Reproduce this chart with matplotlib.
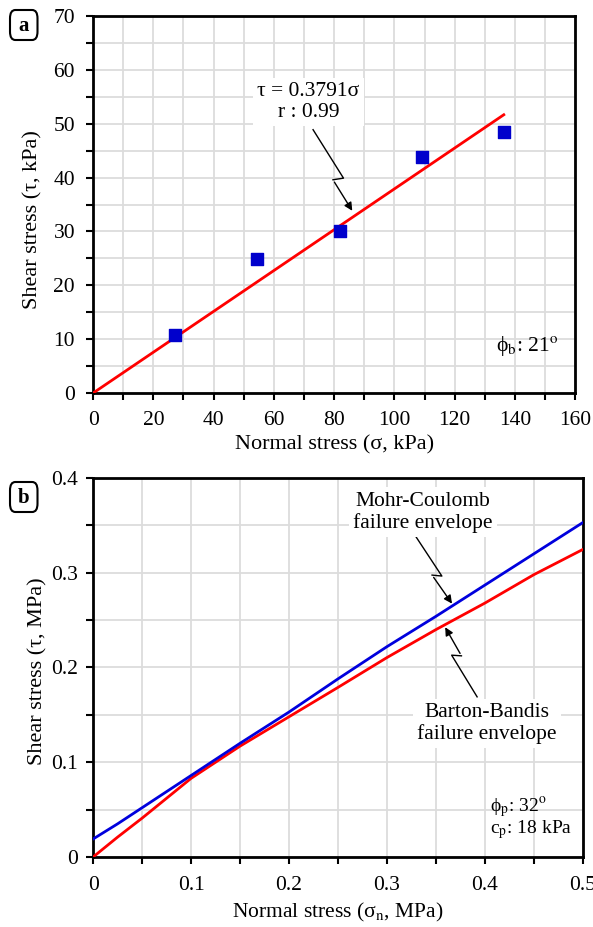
import matplotlib
matplotlib.use("Agg")
import matplotlib.pyplot as plt
from matplotlib.ticker import MultipleLocator
from matplotlib.patches import FancyBboxPatch

plt.rcParams['font.family'] = ['Liberation Serif', 'DejaVu Serif']
plt.rcParams['mathtext.fontset'] = 'stix'

# panel a: tilt test data
sigma_a = [27.3, 54.5, 81.8, 109.0, 136.3]
tau_a = [10.7, 24.8, 30.0, 43.9, 48.5]
fit_x = [0, 136.3]
slope_a = 0.3791

# panel b: failure envelopes
sn_b = [0, 0.025, 0.05, 0.1, 0.15, 0.2, 0.25, 0.3, 0.35, 0.4, 0.45, 0.5]
mc_tau = [0.019, 0.035, 0.052, 0.086, 0.12, 0.153, 0.188, 0.222, 0.254, 0.287, 0.320, 0.353]
bb_tau = [0.0, 0.021, 0.041, 0.083, 0.117, 0.148, 0.179, 0.2105, 0.240, 0.268, 0.298, 0.3246]

fig = plt.figure(figsize=(5.93, 9.27), dpi=100)
ax1 = fig.add_axes([0.157, 0.576, 0.813, 0.4067])
ax2 = fig.add_axes([0.157, 0.0755, 0.826, 0.4089])

fs = 15.5


def style(ax):
    ax.grid(which='both', color='#dcdcdc', lw=1.3)
    ax.set_axisbelow(True)
    for s in ax.spines.values():
        s.set_linewidth(2)
    ax.tick_params(which='both', direction='out', width=1.5, labelsize=fs)
    ax.tick_params(which='major', length=5)
    ax.tick_params(which='minor', length=5)


def zigzag(ax, pts):
    xs, ys = zip(*pts)
    ax.plot(xs[:-1], ys[:-1], color='black', lw=1)
    ax.annotate('', xy=pts[-1], xytext=pts[-2],
                arrowprops=dict(arrowstyle='-|>', color='black', lw=1,
                                mutation_scale=12))


# ---- panel a
ax1.plot(fit_x, [slope_a * x for x in fit_x], color='red', lw=2, zorder=3)
ax1.scatter(sigma_a, tau_a, marker='s', s=70, color='#0000cc', zorder=4)
ax1.set_xlim(0, 160)
ax1.set_ylim(0, 70)
ax1.xaxis.set_major_locator(MultipleLocator(20))
ax1.xaxis.set_minor_locator(MultipleLocator(10))
ax1.yaxis.set_major_locator(MultipleLocator(10))
ax1.yaxis.set_minor_locator(MultipleLocator(5))
style(ax1)
ax1.tick_params(axis='x', pad=8)
ax1.tick_params(axis='y', pad=8)
ax1.set_xlabel('Normal stress (σ, kPa)', fontsize=16, labelpad=4)
ax1.set_ylabel('Shear stress (τ, kPa)', fontsize=16)
ax1.yaxis.set_label_coords(-0.104, 0.46)
ax1.text(71.5, 54, 'τ = 0.3791σ\nr : 0.99', ha='center', va='center',
         fontsize=fs, linespacing=1.15,
         bbox=dict(facecolor='white', edgecolor='none', pad=3))
zigzag(ax1, [(73.0, 48.9), (83.1, 39.9), (79.6, 39.6), (86.5, 33.4)])
ax1.text(154.5, 8.7, r'ϕ$_{\rm b}$: 21$^{\rm o}$', ha='right', va='center', fontsize=fs)

# ---- panel b
ax2.plot(sn_b, bb_tau, color='red', lw=2, zorder=3)
ax2.plot(sn_b, mc_tau, color='#0000dd', lw=2, zorder=4)
ax2.set_xlim(0, 0.5)
ax2.set_ylim(0, 0.4)
ax2.xaxis.set_major_locator(MultipleLocator(0.1))
ax2.xaxis.set_minor_locator(MultipleLocator(0.05))
ax2.yaxis.set_major_locator(MultipleLocator(0.1))
ax2.yaxis.set_minor_locator(MultipleLocator(0.05))
ax2.xaxis.set_major_formatter(lambda v, p: '0' if v == 0 else f'{v:.1f}')
ax2.yaxis.set_major_formatter(lambda v, p: '0' if v == 0 else f'{v:.1f}')
style(ax2)
ax2.tick_params(axis='x', pad=9)
ax2.tick_params(axis='y', pad=6)
ax2.set_xlabel(r'Normal stress (σ$_{\rm n}$, MPa)', fontsize=fs, labelpad=4)
ax2.set_ylabel('Shear stress (τ, MPa)', fontsize=16)
ax2.yaxis.set_label_coords(-0.094, 0.49)
ax2.text(0.337, 0.364, 'Mohr-Coulomb\nfailure envelope', ha='center', va='center',
         fontsize=fs, linespacing=1.15,
         bbox=dict(facecolor='white', edgecolor='none', pad=3))
zigzag(ax2, [(0.327, 0.342), (0.356, 0.2965), (0.346, 0.2975), (0.368, 0.265)])
ax2.text(0.402, 0.141, 'Barton-Bandis\nfailure envelope', ha='center', va='center',
         fontsize=fs, linespacing=1.15,
         bbox=dict(facecolor='white', edgecolor='none', pad=3))
zigzag(ax2, [(0.392, 0.169), (0.366, 0.213), (0.376, 0.2123), (0.358, 0.245)])
ax2.text(0.405, 0.0526, r'ϕ$_{\rm p}$: 32$^{\rm o}$', ha='left', va='center', fontsize=14)
ax2.text(0.405, 0.0288, r'c$_{\rm p}$: 18 kPa', ha='left', va='center', fontsize=14)

# panel letters
for lbl, y0 in [('a', 10), ('b', 482)]:
    bx = FancyBboxPatch((10 / 593, 1 - (y0 + 30) / 927), 27.5 / 593, 30 / 927,
                        boxstyle='round,pad=0,rounding_size=0.009',
                        transform=fig.transFigure, fc='white', ec='black', lw=1.5)
    fig.patches.append(bx)
    fig.text(23.75 / 593, 1 - (y0 + 16) / 927, lbl, ha='center', va='center',
             fontsize=15, fontweight='bold')

fig.savefig('out.png', dpi=100)
